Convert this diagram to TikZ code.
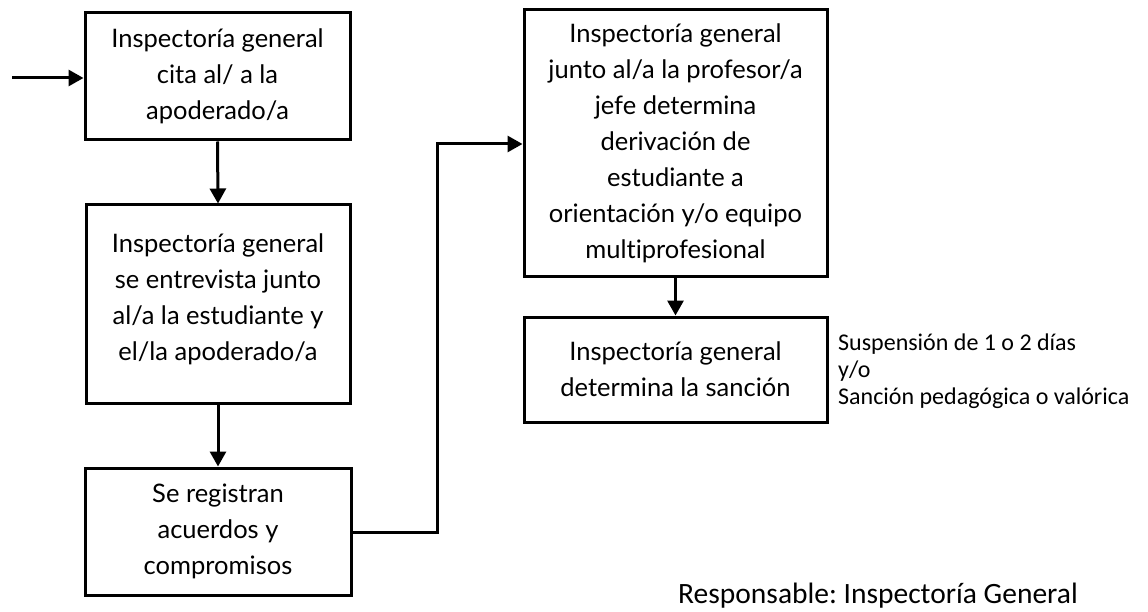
\documentclass[tikz,border=0pt]{standalone}
\usepackage{fontspec}
\setmainfont{Lato}[Ligatures={NoCommon}]
\newfontfamily\calib{Carlito}
\usetikzlibrary{arrows.meta}
\frenchspacing
\tikzset{
  box/.style={draw=black, line width=3pt, rectangle, align=center, inner sep=0pt,
    font=\fontsize{25.5}{36}\selectfont},
  conn/.style={line width=3pt, -{Triangle[length=15pt,width=16pt]}},
  side/.style={align=left, inner sep=0pt, font=\calib\fontsize{24}{27}\selectfont},
}
\begin{document}
\begin{tikzpicture}[x=1pt,y=-1pt]
\useasboundingbox (0,0) rectangle (1148,612);
\node[box, minimum width=265pt, minimum height=127pt] (b1) at (217.5,76.5)
  {Inspectoría general\\cita al/ a la\\apoderado/a};
\node[box, minimum width=264pt, minimum height=198pt] (b2) at (218,304)
  {Inspectoría general\\se entrevista junto\\al/a la estudiante y\\el/la apoderado/a\\[-22pt]};
\node[box, minimum width=266pt, minimum height=127pt] (b3) at (218,531.5)
  {Se registran\\acuerdos y\\compromisos};
\node[box, minimum width=303pt, minimum height=267pt] (b4) at (675.5,143.5)
  {Inspectoría general\\junto al/a la profesor/a\\jefe determina\\derivación de\\estudiante a\\orientación y/o equipo\\multiprofesional};
\node[box, minimum width=303pt, minimum height=105pt] (b5) at (675.5,369.5)
  {Inspectoría general\\determina la sanción};
\coordinate (in) at (12,78);
\coordinate (mid) at (437,0);
\draw[conn] (in) -- (in -| b1.west);
\draw[conn] (b1.south) -- (b2.north);
\draw[conn] (b2.south) -- (b3.north);
\draw[conn] (b3.east |- 0,532) -- (mid |- 0,532) -- (mid |- 0,144) -- (b4.west |- 0,144);
\draw[conn] (b4.south) -- (b5.north);
\node[side, anchor=north west] (s) at (838,334)
  {Suspensión de 1 o 2 días\\y/o\\Sanción pedagógica o valórica};
\node[inner sep=0pt, anchor=base west, font=\calib\fontsize{29.5}{30}\selectfont] (r) at (678,603)
  {Responsable: Inspectoría General};
\end{tikzpicture}
\end{document}
